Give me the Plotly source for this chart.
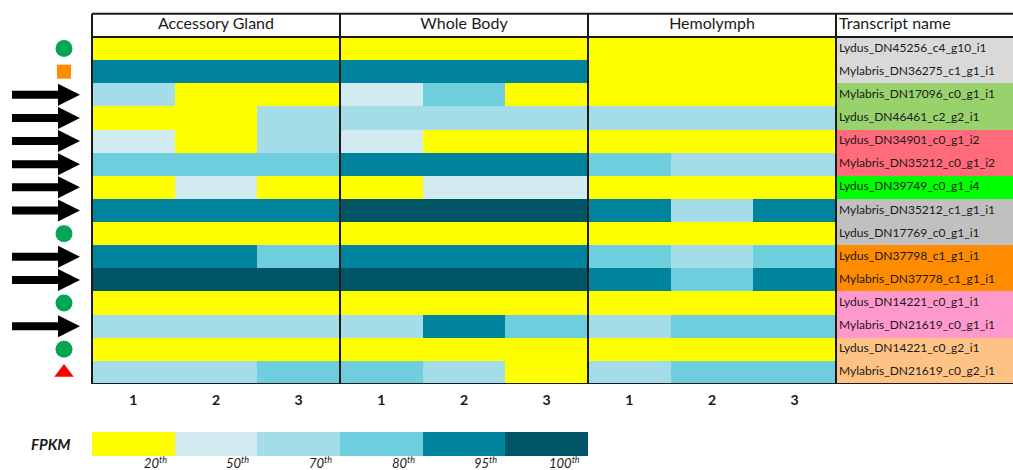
import plotly.graph_objects as go

# ---------------- data ----------------
tissues = ["Accessory Gland", "Whole Body", "Hemolymph"]
replicates = ["1", "2", "3"]
transcripts = [
    "Lydus_DN45256_c4_g10_i1", "Mylabris_DN36275_c1_g1_i1", "Mylabris_DN17096_c0_g1_i1",
    "Lydus_DN46461_c2_g2_i1", "Lydus_DN34901_c0_g1_i2", "Mylabris_DN35212_c0_g1_i2",
    "Lydus_DN39749_c0_g1_i4", "Mylabris_DN35212_c1_g1_i1", "Lydus_DN17769_c0_g1_i1",
    "Lydus_DN37798_c1_g1_i1", "Mylabris_DN37778_c1_g1_i1", "Lydus_DN14221_c0_g1_i1",
    "Mylabris_DN21619_c0_g1_i1", "Lydus_DN14221_c0_g2_i1", "Mylabris_DN21619_c0_g2_i1",
]
# expression level class per replicate (0=<20th, 1=50th, 2=70th, 3=80th, 4=95th, 5=100th)
accessory_gland = [[0, 0, 0], [4, 4, 4], [2, 0, 0], [0, 0, 2], [1, 0, 2], [3, 3, 3], [0, 1, 0], [4, 4, 4],
                   [0, 0, 0], [4, 4, 3], [5, 5, 5], [0, 0, 0], [2, 2, 2], [0, 0, 0], [2, 2, 3]]
whole_body = [[0, 0, 0], [4, 4, 4], [1, 3, 0], [2, 2, 2], [1, 0, 0], [4, 4, 4], [0, 1, 1], [5, 5, 5],
              [0, 0, 0], [4, 4, 4], [5, 5, 5], [0, 0, 0], [2, 4, 3], [0, 0, 0], [3, 2, 0]]
hemolymph = [[0, 0, 0], [0, 0, 0], [0, 0, 0], [2, 2, 2], [0, 0, 0], [3, 2, 2], [0, 0, 0], [4, 2, 4],
             [0, 0, 0], [3, 2, 3], [4, 3, 4], [0, 0, 0], [2, 3, 3], [0, 0, 0], [2, 3, 3]]
percentile_labels = ["20", "50", "70", "80", "95", "100"]
level_colors = ["#FFFF00", "#D2EBF0", "#A4DCE7", "#6FCEDE", "#00839C", "#005566"]
name_groups = [0, 0, 1, 1, 2, 2, 3, 4, 4, 5, 5, 6, 6, 7, 7]
group_colors = ["#D9D9D9", "#99D16C", "#FF6B7A", "#00FF00", "#C0C0C0", "#FF8C00", "#FF99CC", "#FFC285"]
row_markers = ["circle", "square", "arrow", "arrow", "arrow", "arrow", "arrow", "arrow",
               "circle", "arrow", "arrow", "circle", "arrow", "circle", "triangle"]

# ---------------- geometry ----------------
W, H = 1013, 470
FONT = "Lato, Open Sans, sans-serif"
n_rows = len(transcripts)
n_cols = len(tissues) * len(replicates)
LEFT_PX, RIGHT_PX = 92, 836          # heat-map left / right edges
TOP_PX, BOT_PX = 37, 384             # data rows top / bottom edges
COL_PX = (RIGHT_PX - LEFT_PX) / n_cols
ROW_PX = (BOT_PX - TOP_PX) / n_rows


def px_x(p):
    return -0.5 + (p - LEFT_PX) / COL_PX


x_range = [px_x(0), px_x(W)]
y_range = [n_rows - 0.5, -0.5 - TOP_PX / ROW_PX]

z = [accessory_gland[r] + whole_body[r] + hemolymph[r] for r in range(n_rows)]
nlev = len(level_colors)


def discrete_scale(colors):
    n = len(colors)
    cs = []
    for i, c in enumerate(colors):
        cs.append([i / n, c])
        cs.append([(i + 1) / n, c])
    return cs


fig = go.Figure()

# main heatmap
fig.add_trace(go.Heatmap(
    z=z, x=list(range(n_cols)), y=list(range(n_rows)),
    colorscale=discrete_scale(level_colors), zmin=-0.5, zmax=nlev - 0.5,
    showscale=False, hoverinfo="skip", xaxis="x", yaxis="y"))

# transcript name background column
fig.add_trace(go.Heatmap(
    z=[[g] for g in name_groups], x=[n_cols - 0.5, px_x(W) + 1], y=list(range(n_rows)),
    colorscale=discrete_scale(group_colors), zmin=-0.5, zmax=len(group_colors) - 0.5,
    showscale=False, hoverinfo="skip", xaxis="x", yaxis="y"))

# transcript names
name_x = n_cols - 0.5 + 3 / COL_PX
fig.add_trace(go.Scatter(
    x=[name_x] * n_rows, y=list(range(n_rows)), mode="text", text=transcripts,
    textposition="middle right", textfont=dict(family=FONT, size=12, color="#1a1a1a"),
    hoverinfo="skip", showlegend=False, cliponaxis=False))

# header texts
hdr_x = [i * len(replicates) + (len(replicates) - 1) / 2 for i in range(len(tissues))] + [name_x]
fig.add_trace(go.Scatter(
    x=hdr_x, y=[-1] * len(hdr_x), mode="text", text=tissues + ["Transcript name"],
    textposition=["middle center"] * len(tissues) + ["middle right"],
    textfont=dict(family=FONT, size=16, color="#1a1a1a"),
    hoverinfo="skip", showlegend=False, cliponaxis=False))

# left symbols
sym_x = px_x(64)
marker_styles = {
    "circle": dict(symbol="circle", size=17, color="#00A651"),
    "square": dict(symbol="square", size=14, color="#FF8C00"),
    "triangle": dict(symbol="triangle-up", size=17, color="#FF0000"),
}
for key, st in marker_styles.items():
    rows = [r for r, m in enumerate(row_markers) if m == key]
    fig.add_trace(go.Scatter(
        x=[sym_x] * len(rows), y=rows, mode="markers",
        marker=dict(symbol=st["symbol"], size=st["size"], color=st["color"], line=dict(width=0)),
        hoverinfo="skip", showlegend=False, cliponaxis=False))

arrow_rows = [r for r, m in enumerate(row_markers) if m == "arrow"]
sx, sy = [], []
for r in arrow_rows:
    sx += [px_x(12), px_x(62), None]
    sy += [r, r, None]
fig.add_trace(go.Scatter(x=sx, y=sy, mode="lines", line=dict(color="black", width=8),
                         hoverinfo="skip", showlegend=False))
fig.add_trace(go.Scatter(
    x=[px_x(80)] * len(arrow_rows), y=arrow_rows, mode="markers",
    marker=dict(symbol="arrow-right", size=22, color="black", line=dict(width=0)),
    hoverinfo="skip", showlegend=False, cliponaxis=False))

# FPKM legend bar
fig.add_trace(go.Heatmap(
    z=[list(range(nlev))], x=list(range(nlev)), y=[0, 1],
    colorscale=discrete_scale(level_colors), zmin=-0.5, zmax=nlev - 0.5,
    showscale=False, hoverinfo="skip", xaxis="x", yaxis="y2"))

# grid/border lines
shapes = []
line_style = dict(color="#1a1a1a", width=2)
hdr_top = -1.5
for yv in [hdr_top, -0.5, n_rows - 0.5]:
    shapes.append(dict(type="line", xref="x", yref="y", x0=-0.5, x1=px_x(W) + 1, y0=yv, y1=yv,
                       line=line_style, layer="above"))
for i in range(len(tissues) + 1):
    xv = i * len(replicates) - 0.5
    shapes.append(dict(type="line", xref="x", yref="y", x0=xv, x1=xv, y0=hdr_top, y1=n_rows - 0.5,
                       line=line_style, layer="above"))

annotations = [dict(text="<b><i>FPKM</i></b>", xref="paper", yref="y2", x=51 / W, y=0.5,
                    xanchor="center", yanchor="middle",
                    showarrow=False, font=dict(family=FONT, size=15, color="#1a1a1a"))]
for k, lab in enumerate(percentile_labels):
    annotations.append(dict(text=f"<i>{lab}<sup>th</sup></i>", xref="x", yref="paper",
                            x=k + 0.5, y=(H - 462) / H, xanchor="right", yanchor="middle",
                            xshift=-6, showarrow=False,
                            font=dict(family=FONT, size=13, color="#1a1a1a")))

fig.update_layout(
    width=W, height=H, margin=dict(l=0, r=0, t=0, b=0),
    paper_bgcolor="white", plot_bgcolor="white", showlegend=False,
    shapes=shapes, annotations=annotations,
    xaxis=dict(range=x_range, domain=[0, 1], anchor="y", showgrid=False, zeroline=False,
               showline=False, ticks="", tickmode="array", tickvals=list(range(n_cols)),
               ticktext=[f"<b>{r}</b>" for r in replicates * len(tissues)],
               ticklabelstandoff=6,
               tickfont=dict(family=FONT, size=14, color="#1a1a1a")),
    yaxis=dict(range=y_range, domain=[(H - BOT_PX) / H, 1], showgrid=False, zeroline=False,
               showticklabels=False, ticks="", anchor="x"),
    yaxis2=dict(range=[0, 1], domain=[(H - 456) / H, (H - 432) / H], showgrid=False,
                zeroline=False, showticklabels=False, ticks="", anchor="x"),
)

fig.write_html("out.html", config={"displayModeBar": False},
               post_script="document.body.style.margin='0';document.body.style.overflow='hidden';")
